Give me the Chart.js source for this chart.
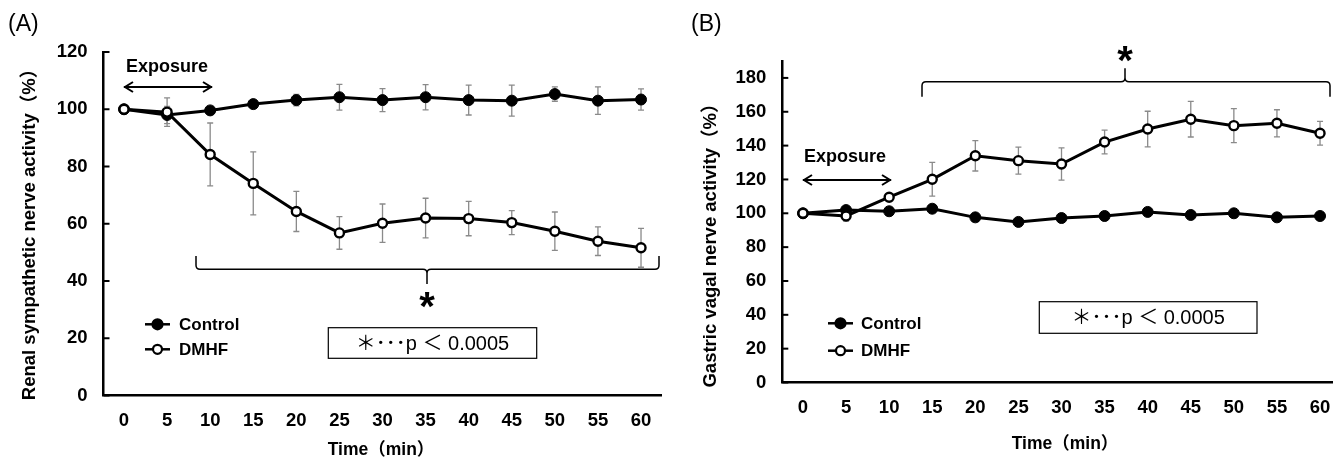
<!DOCTYPE html>
<html>
<head>
<meta charset="utf-8">
<script src="https://cdn.jsdelivr.net/npm/chart.js@4.4.1/dist/chart.umd.min.js"></script>
<style>
    html, body { margin: 0; padding: 0; background: #fff; overflow: hidden; }
    #wrap { position: relative; width: 1339px; height: 459px; }
    canvas { position: absolute; top: 0; }
</style>
</head>
<body>
<div id="wrap">
    <canvas id="chartA" width="680" height="459" style="left:0"></canvas>
    <canvas id="chartB" width="659" height="459" style="left:680px"></canvas>
</div>
<script>
// time points (min)
var timeMin = [0, 5, 10, 15, 20, 25, 30, 35, 40, 45, 50, 55, 60]

// (A) renal sympathetic nerve activity, mean and SE
var ctrlRenal = [100, 98, 99.6, 101.8, 103.2, 104.2, 103.2, 104.2, 103.2, 103, 105.3, 103, 103.4]
var ctrlRenalErr = [0, 3, 1, 1, 2, 4.5, 4, 4.4, 5.2, 5.4, 2.5, 4.8, 3.7]
var dmhfRenal = [100, 99, 84.2, 74.1, 64.3, 56.8, 60.2, 62, 61.8, 60.4, 57.4, 53.9, 51.6]
var dmhfRenalErr = [0, 5, 11, 11, 7, 5.7, 6.7, 6.9, 6, 4.2, 6.7, 5, 6.8]

// (B) gastric vagal nerve activity, mean and SE
var ctrlGastric = [100, 101.9, 101.2, 102.7, 97.6, 94.9, 97.2, 98.4, 100.8, 99, 100, 97.6, 98.4]
var ctrlGastricErr = [0, 1.5, 1.5, 1.5, 1.5, 1.5, 1.5, 1.5, 1.5, 1.5, 1.5, 1.5, 1.5]
var dmhfGastric = [100, 98.4, 109.5, 120.1, 134, 131.1, 129.1, 142.1, 149.8, 155.6, 151.8, 153.2, 147.3]
var dmhfGastricErr = [0, 3, 2, 10, 9, 8, 9.5, 7, 10.5, 10.5, 10, 8, 7]

var yTicksRenal = [0, 20, 40, 60, 80, 100, 120]
var yTicksGastric = [0, 20, 40, 60, 80, 100, 120, 140, 160, 180]
var seriesNames = ["Control", "DMHF"]
var sigText = "＊･･･p ＜ 0.0005"

var FONT = '"Liberation Sans", "Noto Sans CJK JP", Arial, sans-serif'
Chart.defaults.font.family = FONT
Chart.defaults.color = '#000'

function toPoints(vals) {
    return vals.map(function (v, i) { return {x: timeMin[i], y: v} })
}

function setTicks(list) {
    return function (axis) {
        axis.ticks = list.map(function (v) { return {value: v} })
    }
}

function drawMarker(ctx, x, y, filled) {
    ctx.beginPath()
    ctx.arc(x, y, filled ? 5 : 4.5, 0, Math.PI * 2)
    ctx.fillStyle = filled ? '#000' : '#fff'
    ctx.fill()
    ctx.lineWidth = 2.2
    ctx.strokeStyle = '#000'
    ctx.stroke()
}

var overlayPlugin = {
    id: 'overlay',
    beforeDatasetsDraw: function (chart, args, opts) {
        var ctx = chart.ctx
        var xs = chart.scales.x, ys = chart.scales.y
        ctx.save()
        ctx.strokeStyle = '#8a8a8a'
        ctx.lineWidth = 1.3
        opts.errors.forEach(function (errs, di) {
            var vals = opts.means[di]
            errs.forEach(function (e, i) {
                if (!e) return
                var px = xs.getPixelForValue(timeMin[i])
                var top = ys.getPixelForValue(vals[i] + e)
                var bot = ys.getPixelForValue(vals[i] - e)
                ctx.beginPath()
                ctx.moveTo(px, top); ctx.lineTo(px, bot)
                ctx.moveTo(px - 3, top); ctx.lineTo(px + 3, top)
                ctx.moveTo(px - 3, bot); ctx.lineTo(px + 3, bot)
                ctx.stroke()
            })
        })
        ctx.restore()
    },
    afterDraw: function (chart, args, opts) {
        var ctx = chart.ctx
        var area = chart.chartArea
        var ys = chart.scales.y
        ctx.save()
        // inward tick marks on y axis
        ctx.strokeStyle = '#000'
        ctx.lineWidth = 2
        ys.ticks.forEach(function (t) {
            var py = ys.getPixelForValue(t.value)
            ctx.beginPath()
            ctx.moveTo(area.left, py); ctx.lineTo(area.left + 6, py)
            ctx.stroke()
        })

        ctx.fillStyle = '#000'
        ctx.textBaseline = 'middle'

        // panel label
        ctx.font = '23px ' + FONT
        ctx.textAlign = 'left'
        ctx.fillText(opts.panel.text, opts.panel.x, opts.panel.y)

        // axis titles
        ctx.font = 'bold 17.5px ' + FONT
        ctx.textAlign = 'center'
        ctx.fillText(opts.xTitle.text, opts.xTitle.x, opts.xTitle.y)
        ctx.save()
        ctx.translate(opts.yTitle.x, opts.yTitle.y)
        ctx.rotate(-Math.PI / 2)
        ctx.font = 'bold 18.5px ' + FONT
        ctx.fillText(opts.yTitle.text, 0, 0)
        ctx.restore()

        // exposure arrow
        var ex = opts.exposure
        ctx.font = 'bold 18px ' + FONT
        ctx.fillText('Exposure', ex.tx, ex.ty)
        ctx.lineWidth = 2
        ctx.beginPath()
        ctx.moveTo(ex.x1, ex.y); ctx.lineTo(ex.x2, ex.y)
        ctx.moveTo(ex.x1 + 9, ex.y - 5); ctx.lineTo(ex.x1 + 1, ex.y); ctx.lineTo(ex.x1 + 9, ex.y + 5)
        ctx.moveTo(ex.x2 - 9, ex.y - 5); ctx.lineTo(ex.x2 - 1, ex.y); ctx.lineTo(ex.x2 - 9, ex.y + 5)
        ctx.stroke()

        // significance bracket
        var b = opts.bracket, r = 4
        var d = b.endY > b.y ? 1 : -1
        var n = b.notchY > b.y ? 1 : -1
        ctx.lineWidth = 1.5
        ctx.beginPath()
        ctx.moveTo(b.x1, b.endY); ctx.lineTo(b.x1, b.y + d * r)
        ctx.quadraticCurveTo(b.x1, b.y, b.x1 + r, b.y)
        ctx.lineTo(b.nx - r, b.y)
        ctx.quadraticCurveTo(b.nx, b.y, b.nx, b.y + n * r)
        ctx.lineTo(b.nx, b.notchY)
        ctx.moveTo(b.x2, b.endY); ctx.lineTo(b.x2, b.y + d * r)
        ctx.quadraticCurveTo(b.x2, b.y, b.x2 - r, b.y)
        ctx.lineTo(b.nx + r, b.y)
        ctx.quadraticCurveTo(b.nx, b.y, b.nx, b.y + n * r)
        ctx.stroke()
        // asterisk glyph sits high in the em box, so place it on the baseline
        ctx.font = 'bold 40px "Liberation Sans", Arial, sans-serif'
        ctx.textBaseline = 'alphabetic'
        ctx.fillText('*', b.nx, b.starY + 40 * 0.58)
        ctx.textBaseline = 'middle'

        // legend
        var lg = opts.legend
        ctx.font = 'bold 17px ' + FONT
        ctx.textAlign = 'left'
        seriesNames.forEach(function (name, i) {
            var ly = lg.y[i]
            ctx.lineWidth = 2.5
            ctx.strokeStyle = '#000'
            ctx.beginPath()
            ctx.moveTo(lg.x1, ly); ctx.lineTo(lg.x2, ly)
            ctx.stroke()
            drawMarker(ctx, (lg.x1 + lg.x2) / 2, ly, i === 0)
            ctx.fillStyle = '#000'
            ctx.fillText(name, lg.tx, ly + 1)
        })

        // p value box
        var bx = opts.box
        ctx.lineWidth = 1.2
        ctx.strokeRect(bx.x1, bx.y1, bx.x2 - bx.x1, bx.y2 - bx.y1)
        ctx.font = '20px ' + FONT
        ctx.textAlign = 'center'
        ctx.fillText(sigText, (bx.x1 + bx.x2) / 2, (bx.y1 + bx.y2) / 2 + 1)
        ctx.restore()
    }
}

function makeChart(id, cfg) {
    return new Chart(document.getElementById(id), {
        type: 'line',
        data: {
            datasets: [{
                label: seriesNames[1], data: toPoints(cfg.dmhf), order: 0,
                borderColor: '#000', borderWidth: 3, tension: 0,
                pointRadius: 4.5, pointBackgroundColor: '#fff', pointBorderColor: '#000', pointBorderWidth: 2.4
            }, {
                label: seriesNames[0], data: toPoints(cfg.ctrl), order: 1,
                borderColor: '#000', borderWidth: 3, tension: 0,
                pointRadius: 5.5, pointBackgroundColor: '#000', pointBorderColor: '#000', pointBorderWidth: 1
            }]
        },
        options: {
            responsive: false, animation: false, devicePixelRatio: 1,
            layout: {padding: {left: 0, top: cfg.top, right: cfg.right, bottom: 0}},
            plugins: {
                legend: {display: false}, tooltip: {enabled: false},
                overlay: cfg.overlay
            },
            scales: {
                x: {
                    type: 'linear', min: cfg.xMin, max: cfg.xMax,
                    afterBuildTicks: setTicks(timeMin),
                    afterFit: function (s) { s.height = cfg.xHeight },
                    grid: {display: false, drawTicks: true, tickLength: 14},
                    border: {display: true, color: '#000', width: 2.5},
                    ticks: {padding: 0, autoSkip: false, maxRotation: 0, color: '#000', font: {size: 18.5, weight: 'bold'}}
                },
                y: {
                    type: 'linear', min: 0, max: cfg.yMax,
                    afterBuildTicks: setTicks(cfg.yTicks),
                    afterFit: function (s) { s.width = cfg.yWidth },
                    grid: {display: false, drawTicks: true, tickLength: 16},
                    border: {display: true, color: '#000', width: 2.5},
                    ticks: {padding: 0, color: '#000', font: {size: 18.5, weight: 'bold'}}
                }
            }
        },
        plugins: [overlayPlugin]
    })
}

makeChart('chartA', {
    ctrl: ctrlRenal, dmhf: dmhfRenal,
    top: 52, right: 18.3, xMin: -2.38, xMax: 62.4, xHeight: 63.5, yWidth: 103.5,
    yMax: 120, yTicks: yTicksRenal,
    overlay: {
        means: [dmhfRenal, ctrlRenal], errors: [dmhfRenalErr, ctrlRenalErr],
        panel: {text: '(A)', x: 8, y: 25},
        xTitle: {text: 'Time（min）', x: 381, y: 450},
        yTitle: {text: 'Renal sympathetic nerve activity（%）', x: 30, y: 230},
        exposure: {tx: 167, ty: 67, x1: 124, x2: 212, y: 87},
        bracket: {x1: 196, x2: 659, y: 269.3, endY: 256, nx: 427, notchY: 284, starY: 297},
        legend: {x1: 145, x2: 170, tx: 179, y: [324.3, 349.3]},
        box: {x1: 328.3, y1: 327.7, x2: 536.7, y2: 358.3}
    }
})

makeChart('chartB', {
    ctrl: ctrlGastric, dmhf: dmhfGastric,
    top: 61, right: 0, xMin: -2.4, xMax: 61.4, xHeight: 76.5, yWidth: 102.3,
    yMax: 190, yTicks: yTicksGastric,
    overlay: {
        means: [dmhfGastric, ctrlGastric], errors: [dmhfGastricErr, ctrlGastricErr],
        panel: {text: '(B)', x: 11, y: 25},
        xTitle: {text: 'Time（min）', x: 385, y: 444},
        yTitle: {text: 'Gastric vagal nerve activity（%）', x: 31, y: 241},
        exposure: {tx: 165, ty: 157, x1: 123, x2: 211, y: 180},
        bracket: {x1: 242, x2: 650, y: 81.7, endY: 96.7, nx: 445, notchY: 68.3, starY: 51},
        legend: {x1: 148, x2: 173, tx: 181, y: [323.3, 350.7]},
        box: {x1: 359.3, y1: 301.7, x2: 577, y2: 333.3}
    }
})
</script>
</body>
</html>
